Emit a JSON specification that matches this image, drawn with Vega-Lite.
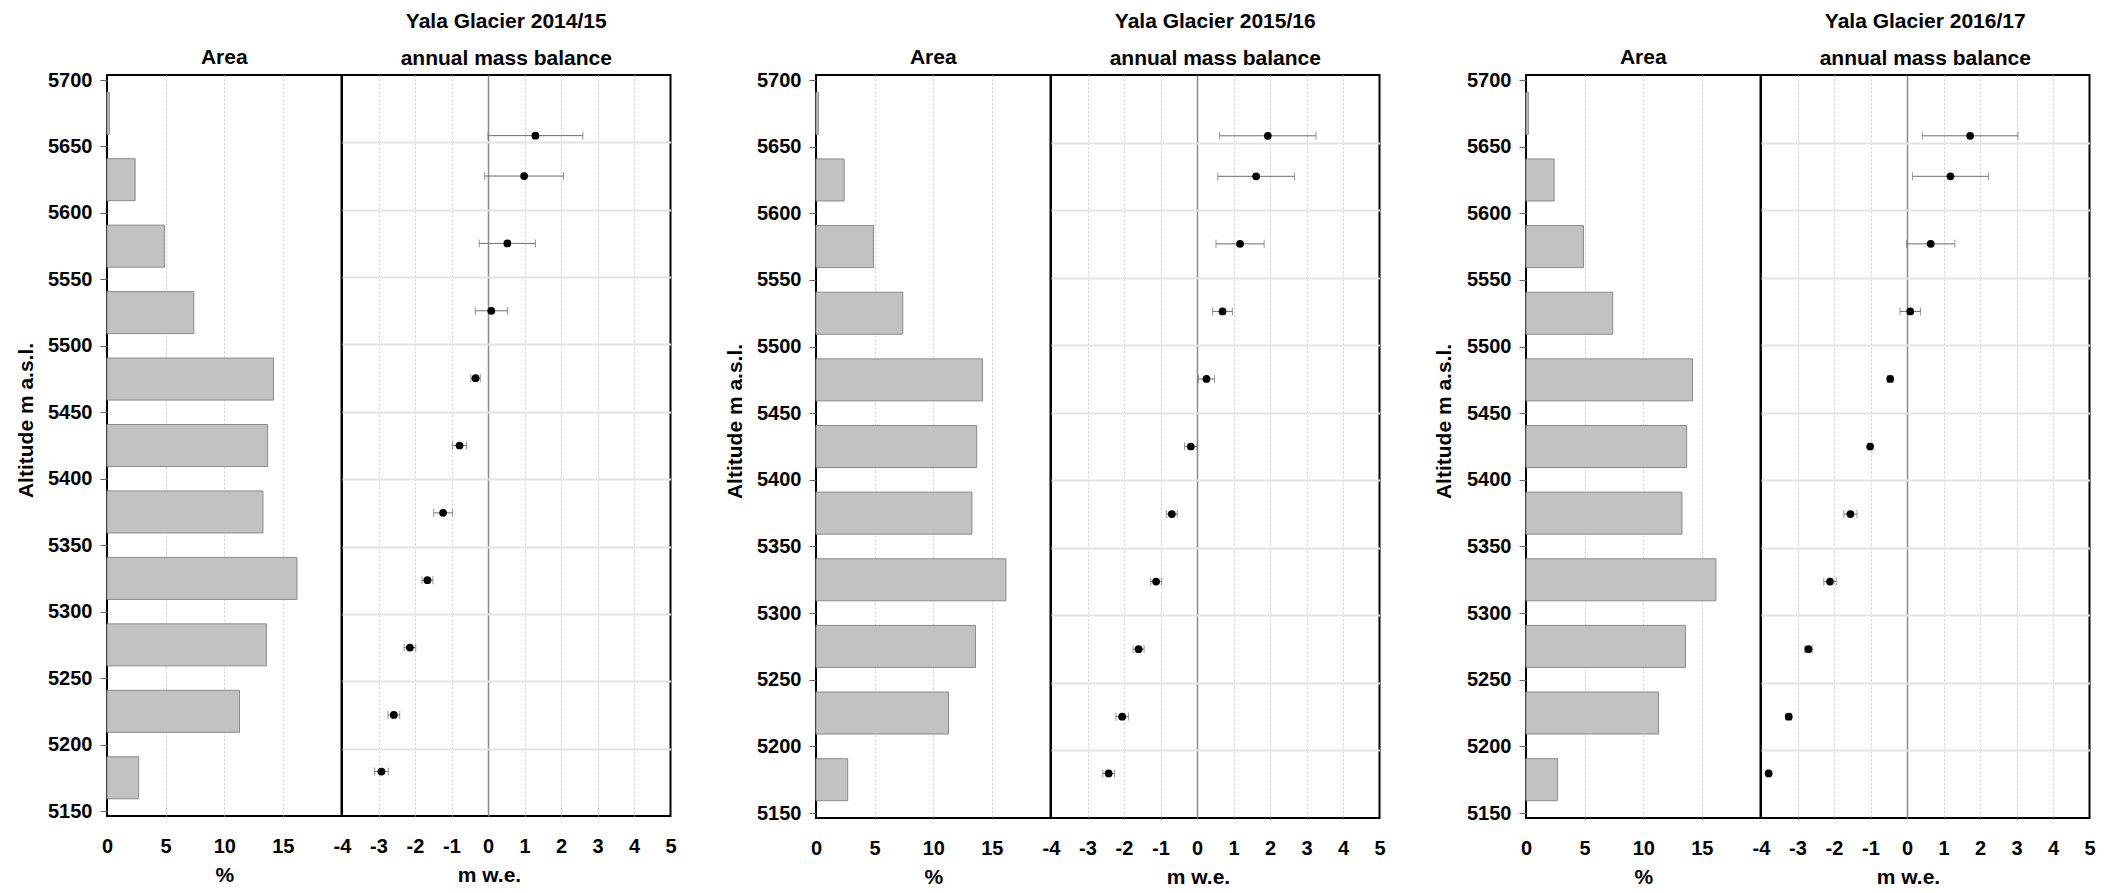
{
  "$schema": "https://vega.github.io/schema/vega-lite/v6.json",
  "padding": {"left": 14, "top": 10, "right": 0, "bottom": 0},
  "background": "white",
  "spacing": 45,
  "config": {
    "view": {"stroke": "#000", "strokeWidth": 2},
    "axis": {
      "labelFont": "Liberation Sans", "labelFontSize": 20, "labelFontWeight": "bold", "labelColor": "#000",
      "titleFont": "Liberation Sans", "titleFontSize": 21, "titleFontWeight": "bold", "titleColor": "#000",
      "domain": false, "ticks": false, "gridColor": "#cfcfcf", "gridDash": [2, 2], "gridWidth": 1, "labelPadding": 20, "titlePadding": 8,
      "labelOverlap": false, "labelBound": false, "labelFlush": false
    },
    "title": {
      "font": "Liberation Sans", "fontSize": 21, "fontWeight": "bold", "color": "#000",
      "subtitleFont": "Liberation Sans", "subtitleFontSize": 21, "subtitleFontWeight": "bold", "subtitleColor": "#000",
      "anchor": "middle", "frame": "group", "offset": 6, "subtitlePadding": 16
    }
  },
  "datasets": {
    "area": [
      {"alt": 5675, "area": 0.2}, {"alt": 5625, "area": 2.4}, {"alt": 5575, "area": 4.9},
      {"alt": 5525, "area": 7.4}, {"alt": 5475, "area": 14.2}, {"alt": 5425, "area": 13.7},
      {"alt": 5375, "area": 13.3}, {"alt": 5325, "area": 16.2}, {"alt": 5275, "area": 13.6},
      {"alt": 5225, "area": 11.3}, {"alt": 5175, "area": 2.7}
    ],
    "mb": [
      {"year": "2014/15", "alt": 5655, "mb": 1.30, "err": 1.30},
      {"year": "2014/15", "alt": 5625, "mb": 0.99, "err": 1.08},
      {"year": "2014/15", "alt": 5575, "mb": 0.53, "err": 0.77},
      {"year": "2014/15", "alt": 5525, "mb": 0.09, "err": 0.44},
      {"year": "2014/15", "alt": 5475, "mb": -0.34, "err": 0.13},
      {"year": "2014/15", "alt": 5425, "mb": -0.78, "err": 0.19},
      {"year": "2014/15", "alt": 5375, "mb": -1.23, "err": 0.26},
      {"year": "2014/15", "alt": 5325, "mb": -1.66, "err": 0.15},
      {"year": "2014/15", "alt": 5275, "mb": -2.14, "err": 0.16},
      {"year": "2014/15", "alt": 5225, "mb": -2.58, "err": 0.16},
      {"year": "2014/15", "alt": 5183, "mb": -2.92, "err": 0.19},
      {"year": "2015/16", "alt": 5655, "mb": 1.94, "err": 1.32},
      {"year": "2015/16", "alt": 5625, "mb": 1.62, "err": 1.05},
      {"year": "2015/16", "alt": 5575, "mb": 1.18, "err": 0.66},
      {"year": "2015/16", "alt": 5525, "mb": 0.70, "err": 0.27},
      {"year": "2015/16", "alt": 5475, "mb": 0.26, "err": 0.22},
      {"year": "2015/16", "alt": 5425, "mb": -0.17, "err": 0.17},
      {"year": "2015/16", "alt": 5375, "mb": -0.69, "err": 0.15},
      {"year": "2015/16", "alt": 5325, "mb": -1.12, "err": 0.15},
      {"year": "2015/16", "alt": 5275, "mb": -1.60, "err": 0.15},
      {"year": "2015/16", "alt": 5225, "mb": -2.05, "err": 0.17},
      {"year": "2015/16", "alt": 5183, "mb": -2.42, "err": 0.16},
      {"year": "2016/17", "alt": 5655, "mb": 1.73, "err": 1.31},
      {"year": "2016/17", "alt": 5625, "mb": 1.19, "err": 1.04},
      {"year": "2016/17", "alt": 5575, "mb": 0.65, "err": 0.66},
      {"year": "2016/17", "alt": 5525, "mb": 0.09, "err": 0.28},
      {"year": "2016/17", "alt": 5475, "mb": -0.46, "err": 0.07},
      {"year": "2016/17", "alt": 5425, "mb": -1.01, "err": 0.05},
      {"year": "2016/17", "alt": 5375, "mb": -1.55, "err": 0.18},
      {"year": "2016/17", "alt": 5325, "mb": -2.11, "err": 0.17},
      {"year": "2016/17", "alt": 5275, "mb": -2.70, "err": 0.10},
      {"year": "2016/17", "alt": 5225, "mb": -3.24, "err": 0.08},
      {"year": "2016/17", "alt": 5183, "mb": -3.79, "err": 0.05}
    ]
  },
  "hconcat": [
    {
      "bounds": "flush", "spacing": 0,
      "hconcat": [
        {
          "data": {"name": "area"}, "width": 234.5, "height": 741,
          "title": {"text": "Area", "offset": 2},
          "mark": {"type": "bar", "orient": "horizontal", "size": 42, "fill": "#c2c2c2", "stroke": "#8a8a8a", "strokeWidth": 1},
          "encoding": {
            "x": {"field": "area", "type": "quantitative", "scale": {"domain": [0, 20], "nice": false}, "axis": {"values": [0, 5, 10, 15], "title": "%", "grid": true, "labelOverlap": false, "labelFlush": false, "gridOpacity": {"condition": {"test": "datum.value == 0", "value": 0}, "value": 1}}},
            "y": {"field": "alt", "type": "quantitative", "scale": {"domain": [5150, 5700], "nice": false, "zero": false},
              "axis": {"values": [5150, 5200, 5250, 5300, 5350, 5400, 5450, 5500, 5550, 5600, 5650, 5700], "format": "d", "grid": false, "ticks": true, "tickSize": 7, "tickColor": "#666", "labelPadding": 8, "labelOverlap": false,
                "title": "Altitude m a.s.l.", "titleFontSize": 21, "titleX": -75, "titleY": 345, "titleAngle": 270, "titleAlign": "center", "titleBaseline": "alphabetic"}}
          }
        },
        {
          "data": {"name": "mb"}, "width": 328.5, "height": 741,
          "transform": [{"filter": "datum.year == '2014/15'"}],
          "title": {"text": "Yala  Glacier  2014/15", "subtitle": "annual mass balance"},
          "encoding": {
            "x": {"field": "mb", "type": "quantitative", "scale": {"domain": [-4, 5], "nice": false},
              "axis": {"values": [-4, -3, -2, -1, 0, 1, 2, 3, 4, 5], "labelExpr": "datum.value + ''", "title": "m w.e.", "titleX": 147, "grid": true, "labelOverlap": false, "labelFlush": false, "labelBound": false,
                "gridOpacity": {"condition": {"test": "datum.value == -4 || datum.value == 5", "value": 0}, "value": 1},
                "gridColor": {"condition": {"test": "datum.value == 0", "value": "#8a8a8a"}, "value": "#cfcfcf"},
                "gridDash": {"condition": {"test": "datum.value == 0", "value": []}, "value": [2, 2]},
                "gridWidth": {"condition": {"test": "datum.value == 0", "value": 1.5}, "value": 1}}},
            "y": {"field": "alt", "type": "quantitative", "scale": {"domain": [5150, 5700], "nice": false, "zero": false},
              "axis": {"values": [5150, 5200, 5250, 5300, 5350, 5400, 5450, 5500, 5550, 5600, 5650, 5700], "labels": false, "title": null, "grid": true, "gridDash": [], "gridColor": "#e3e3e3", "gridWidth": 2, "gridOpacity": {"condition": {"test": "datum.value == 5150 || datum.value == 5700", "value": 0}, "value": 1}}}
          },
          "layer": [
            {"mark": {"type": "errorbar", "ticks": {"size": 8}, "color": "#6e6e6e", "thickness": 1}, "encoding": {"xError": {"field": "err"}}},
            {"mark": {"type": "point", "filled": true, "color": "#000", "size": 60, "opacity": 1}}
          ]
        }
      ]
    },
    {
      "bounds": "flush", "spacing": 0,
      "hconcat": [
        {
          "data": {"name": "area"}, "width": 234.5, "height": 743,
          "title": {"text": "Area", "offset": 2},
          "mark": {"type": "bar", "orient": "horizontal", "size": 42, "fill": "#c2c2c2", "stroke": "#8a8a8a", "strokeWidth": 1},
          "encoding": {
            "x": {"field": "area", "type": "quantitative", "scale": {"domain": [0, 20], "nice": false}, "axis": {"values": [0, 5, 10, 15], "title": "%", "grid": true, "labelOverlap": false, "labelFlush": false, "gridOpacity": {"condition": {"test": "datum.value == 0", "value": 0}, "value": 1}}},
            "y": {"field": "alt", "type": "quantitative", "scale": {"domain": [5150, 5700], "nice": false, "zero": false},
              "axis": {"values": [5150, 5200, 5250, 5300, 5350, 5400, 5450, 5500, 5550, 5600, 5650, 5700], "format": "d", "grid": false, "ticks": true, "tickSize": 7, "tickColor": "#666", "labelPadding": 8, "labelOverlap": false,
                "title": "Altitude m a.s.l.", "titleFontSize": 21, "titleX": -75, "titleY": 346, "titleAngle": 270, "titleAlign": "center", "titleBaseline": "alphabetic"}}
          }
        },
        {
          "data": {"name": "mb"}, "width": 328.5, "height": 743,
          "transform": [{"filter": "datum.year == '2015/16'"}],
          "title": {"text": "Yala  Glacier  2015/16", "subtitle": "annual mass balance"},
          "encoding": {
            "x": {"field": "mb", "type": "quantitative", "scale": {"domain": [-4, 5], "nice": false},
              "axis": {"values": [-4, -3, -2, -1, 0, 1, 2, 3, 4, 5], "labelExpr": "datum.value + ''", "title": "m w.e.", "titleX": 147, "grid": true, "labelOverlap": false, "labelFlush": false, "labelBound": false,
                "gridOpacity": {"condition": {"test": "datum.value == -4 || datum.value == 5", "value": 0}, "value": 1},
                "gridColor": {"condition": {"test": "datum.value == 0", "value": "#8a8a8a"}, "value": "#cfcfcf"},
                "gridDash": {"condition": {"test": "datum.value == 0", "value": []}, "value": [2, 2]},
                "gridWidth": {"condition": {"test": "datum.value == 0", "value": 1.5}, "value": 1}}},
            "y": {"field": "alt", "type": "quantitative", "scale": {"domain": [5150, 5700], "nice": false, "zero": false},
              "axis": {"values": [5150, 5200, 5250, 5300, 5350, 5400, 5450, 5500, 5550, 5600, 5650, 5700], "labels": false, "title": null, "grid": true, "gridDash": [], "gridColor": "#e3e3e3", "gridWidth": 2, "gridOpacity": {"condition": {"test": "datum.value == 5150 || datum.value == 5700", "value": 0}, "value": 1}}}
          },
          "layer": [
            {"mark": {"type": "errorbar", "ticks": {"size": 8}, "color": "#6e6e6e", "thickness": 1}, "encoding": {"xError": {"field": "err"}}},
            {"mark": {"type": "point", "filled": true, "color": "#000", "size": 60, "opacity": 1}}
          ]
        }
      ]
    },
    {
      "bounds": "flush", "spacing": 0,
      "hconcat": [
        {
          "data": {"name": "area"}, "width": 234.5, "height": 743,
          "title": {"text": "Area", "offset": 2},
          "mark": {"type": "bar", "orient": "horizontal", "size": 42, "fill": "#c2c2c2", "stroke": "#8a8a8a", "strokeWidth": 1},
          "encoding": {
            "x": {"field": "area", "type": "quantitative", "scale": {"domain": [0, 20], "nice": false}, "axis": {"values": [0, 5, 10, 15], "title": "%", "grid": true, "labelOverlap": false, "labelFlush": false, "gridOpacity": {"condition": {"test": "datum.value == 0", "value": 0}, "value": 1}}},
            "y": {"field": "alt", "type": "quantitative", "scale": {"domain": [5150, 5700], "nice": false, "zero": false},
              "axis": {"values": [5150, 5200, 5250, 5300, 5350, 5400, 5450, 5500, 5550, 5600, 5650, 5700], "format": "d", "grid": false, "ticks": true, "tickSize": 7, "tickColor": "#666", "labelPadding": 8, "labelOverlap": false,
                "title": "Altitude m a.s.l.", "titleFontSize": 21, "titleX": -76, "titleY": 346, "titleAngle": 270, "titleAlign": "center", "titleBaseline": "alphabetic"}}
          }
        },
        {
          "data": {"name": "mb"}, "width": 328.5, "height": 743,
          "transform": [{"filter": "datum.year == '2016/17'"}],
          "title": {"text": "Yala  Glacier  2016/17", "subtitle": "annual mass balance"},
          "encoding": {
            "x": {"field": "mb", "type": "quantitative", "scale": {"domain": [-4, 5], "nice": false},
              "axis": {"values": [-4, -3, -2, -1, 0, 1, 2, 3, 4, 5], "labelExpr": "datum.value + ''", "title": "m w.e.", "titleX": 147, "grid": true, "labelOverlap": false, "labelFlush": false, "labelBound": false,
                "gridOpacity": {"condition": {"test": "datum.value == -4 || datum.value == 5", "value": 0}, "value": 1},
                "gridColor": {"condition": {"test": "datum.value == 0", "value": "#8a8a8a"}, "value": "#cfcfcf"},
                "gridDash": {"condition": {"test": "datum.value == 0", "value": []}, "value": [2, 2]},
                "gridWidth": {"condition": {"test": "datum.value == 0", "value": 1.5}, "value": 1}}},
            "y": {"field": "alt", "type": "quantitative", "scale": {"domain": [5150, 5700], "nice": false, "zero": false},
              "axis": {"values": [5150, 5200, 5250, 5300, 5350, 5400, 5450, 5500, 5550, 5600, 5650, 5700], "labels": false, "title": null, "grid": true, "gridDash": [], "gridColor": "#e3e3e3", "gridWidth": 2, "gridOpacity": {"condition": {"test": "datum.value == 5150 || datum.value == 5700", "value": 0}, "value": 1}}}
          },
          "layer": [
            {"mark": {"type": "errorbar", "ticks": {"size": 8}, "color": "#6e6e6e", "thickness": 1}, "encoding": {"xError": {"field": "err"}}},
            {"mark": {"type": "point", "filled": true, "color": "#000", "size": 60, "opacity": 1}}
          ]
        }
      ]
    }
  ]
}
